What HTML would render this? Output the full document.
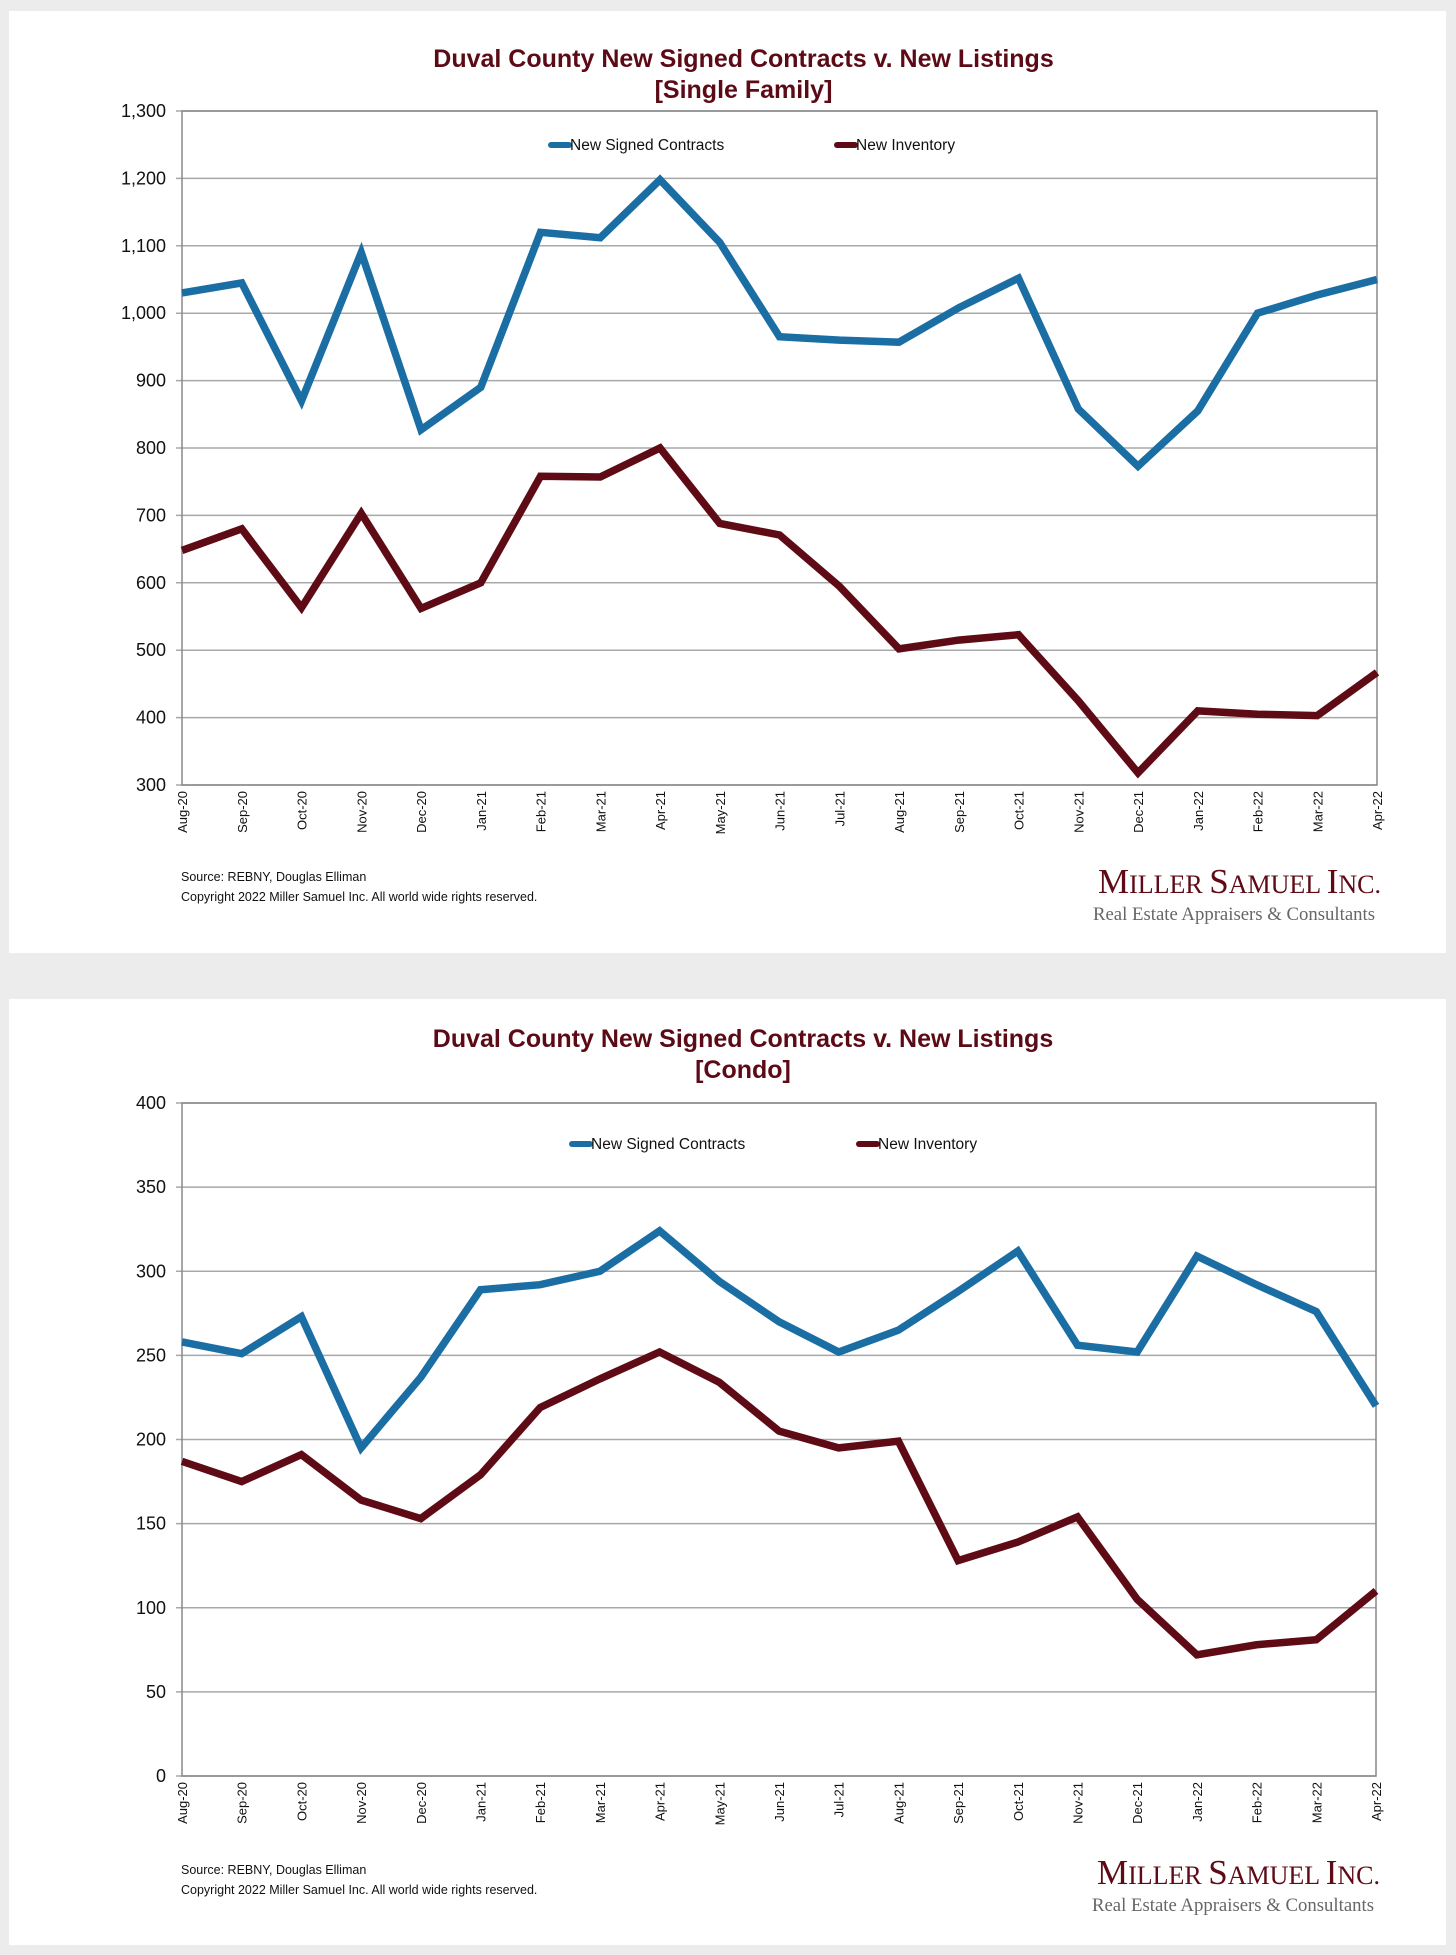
<!DOCTYPE html>
<html><head><meta charset="utf-8">
<style>
html,body{margin:0;padding:0;background:#ececec;}
body{width:1456px;height:1955px;position:relative;overflow:hidden;font-family:"Liberation Sans",sans-serif;}
.panel{position:absolute;left:9px;width:1437px;background:#fff;}
svg{position:absolute;left:0;top:0;}
</style></head>
<body>
<div class="panel" style="top:11px;height:942px;"></div>
<div class="panel" style="top:999px;height:946px;"></div>
<svg id="chart" width="1456" height="1955"></svg>
<script>
const months = ["Aug-20","Sep-20","Oct-20","Nov-20","Dec-20","Jan-21","Feb-21","Mar-21","Apr-21","May-21","Jun-21","Jul-21","Aug-21","Sep-21","Oct-21","Nov-21","Dec-21","Jan-22","Feb-22","Mar-22","Apr-22"];
const sfContracts = [1030,1045,870,1090,827,890,1120,1112,1198,1105,965,960,957,1008,1052,858,773,855,1000,1027,1050];
const sfInventory = [648,680,563,703,562,600,758,757,800,688,671,595,502,515,523,425,318,410,405,403,467];
const sfTicks = [300,400,500,600,700,800,900,1000,1100,1200,1300];
const condoContracts = [258,251,273,195,237,289,292,300,324,294,270,252,265,288,312,256,252,309,292,276,220];
const condoInventory = [187,175,191,164,153,179,219,236,252,234,205,195,199,128,139,154,105,72,78,81,110];
const condoTicks = [0,50,100,150,200,250,300,350,400];

const NS="http://www.w3.org/2000/svg";
const svg=document.getElementById('chart');
function mk(tag,attrs,parent){const e=document.createElementNS(NS,tag);for(const k in attrs)e.setAttribute(k,attrs[k]);(parent||svg).appendChild(e);return e;}
function txt(s,attrs,parent){const e=mk('text',attrs,parent);e.textContent=s;return e;}
const BLUE="#1a6ea3", MAROON="#5e0b16", TITLE="#5c0a16";

function drawChart(o){
  const g=mk('g',{});
  
  
  const x=i=>o.left+(o.right-o.left)*i/(months.length-1);
  const y=v=>o.bottom-(o.bottom-o.top)*(v-o.min)/(o.max-o.min);
  let t=txt(o.title1,{x:(o.left+o.right)/2-36,y:o.titleY,'text-anchor':'middle','font-size':25,'font-weight':'bold',fill:TITLE},g);
  
  t=txt(o.title2,{x:(o.left+o.right)/2-36,y:o.titleY+31,'text-anchor':'middle','font-size':25,'font-weight':'bold',fill:TITLE},g);
  
  o.ticks.forEach(v=>{
    const l=mk('line',{x1:o.left-6,x2:o.right,y1:y(v),y2:y(v),stroke:'#a8a8a8','stroke-width':1.5},g);
    
    const lb=txt(o.fmt(v),{x:o.left-16,y:y(v)+6,'text-anchor':'end','font-size':18,fill:'#111'},g);
    
  });
  const r=mk('rect',{x:o.left,y:o.top,width:o.right-o.left,height:o.bottom-o.top,fill:'none',stroke:'#888','stroke-width':1.5},g);
  
  months.forEach((m,i)=>{
    const lb=txt(m,{x:0,y:0,'text-anchor':'end','font-size':13,fill:'#111',transform:`translate(${x(i)+5},${o.bottom+6}) rotate(-90)`},g);
    
  });
  [[o.c,BLUE,'contracts-line'],[o.inv,MAROON,'inventory-line']].forEach(([d,c,n])=>{
    const p=mk('polyline',{points:d.map((v,i)=>x(i)+','+y(v)).join(' '),fill:'none',stroke:c,'stroke-width':7.5,'stroke-linejoin':'miter','stroke-miterlimit':3},g);
    
  });
  [[o.legX1,BLUE,'New Signed Contracts'],[o.legX2,MAROON,'New Inventory']].forEach(([lx,c,s])=>{
    const e=mk('line',{x1:lx,x2:lx+18,y1:o.legY,y2:o.legY,stroke:c,'stroke-width':6,'stroke-linecap':'round'},g);
    
    const lt=txt(s,{x:lx+19,y:o.legY+5,'font-size':15.5,fill:'#111'},g);
    
  });
  t=txt('Source: REBNY, Douglas Elliman',{x:o.left-1,y:o.srcY,'font-size':12.5,fill:'#111'},g);
  
  t=txt('Copyright 2022 Miller Samuel Inc.  All world wide rights reserved.',{x:o.left-1,y:o.srcY+20,'font-size':12.5,fill:'#111'},g);
  
  t=txt('',{x:o.right+4,y:o.logoY,'text-anchor':'end','font-family':'Liberation Serif, serif',fill:MAROON},g);
  t.innerHTML='<tspan font-size="35">M</tspan><tspan font-size="26">ILLER </tspan><tspan font-size="35">S</tspan><tspan font-size="26">AMUEL </tspan><tspan font-size="35">I</tspan><tspan font-size="26">NC.</tspan>';
  
  t=txt('Real Estate Appraisers & Consultants',{x:o.right-2,y:o.logoY+27,'text-anchor':'end','font-family':'Liberation Serif, serif','font-size':19,fill:'#666',textLength:282,lengthAdjust:'spacingAndGlyphs'},g);
  
}
drawChart({name:'single-family-chart',title1:'Duval County New Signed Contracts v. New Listings',title2:'[Single Family]',titleY:67,
  left:182,right:1377,top:111,bottom:785,min:300,max:1300,ticks:sfTicks,fmt:v=>v.toLocaleString('en-US'),
  c:sfContracts,inv:sfInventory,legY:145,legX1:551,legX2:837,srcY:881,logoY:893});
drawChart({name:'condo-chart',title1:'Duval County New Signed Contracts v. New Listings',title2:'[Condo]',titleY:1047,
  left:182,right:1376,top:1103,bottom:1776,min:0,max:400,ticks:condoTicks,fmt:v=>String(v),
  c:condoContracts,inv:condoInventory,legY:1144,legX1:572,legX2:859,srcY:1874,logoY:1884});
</script>
</body></html>
